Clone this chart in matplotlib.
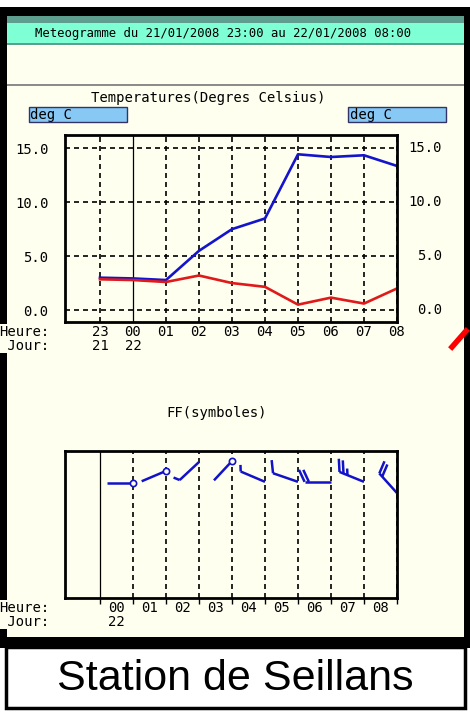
import numpy as np
import matplotlib.pyplot as plt
from matplotlib.patches import Rectangle
from matplotlib.lines import Line2D

# temperatures (deg C), one value per hour
heures = ['23', '00', '01', '02', '03', '04', '05', '06', '07', '08']
jours = ['21', '22', '', '', '', '', '', '', '', '']
temp_bleue = [3.0, 2.93, 2.78, 5.49, 7.5, 8.49, 14.44, 14.19, 14.35, 13.36]
temp_rouge = [2.85, 2.78, 2.6, 3.2, 2.5, 2.15, 0.5, 1.15, 0.6, 2.0]
graduations = [0, 5, 10, 15]

# wind symbols: direction (deg, from), speed (kt), vertical level of the station
ff_heures = ['00', '01', '02', '03', '04', '05', '06', '07', '08']
ff_jours = ['22', '', '', '', '', '', '', '', '']
ff_dir = [270, 247, 227, 223, 293, 289, 270, 292, 318]
ff_kt = [2, 2, 5, 3, 5, 10, 20, 25, 20]
ff_niveau = [3.48, 3.85, 4.12, 4.15, 3.52, 3.52, 3.52, 3.52, 3.18]

W, H = 470, 720
CREME = '#FFFFF0'
MONO = 'DejaVu Sans Mono'
BLEU_FF = '#1212C8'


def fx(x):
    return x / W


def fy(y):
    return 1 - y / H


fig = plt.figure(figsize=(4.7, 7.2), dpi=100)
fig.patch.set_facecolor('white')


def rect(x0, y0, x1, y1, color, **kw):
    fig.add_artist(Rectangle((fx(x0), fy(y1)), (x1 - x0) / W, (y1 - y0) / H,
                             transform=fig.transFigure, facecolor=color,
                             zorder=-5, **kw))


# screenshot frame
rect(0, 7, 470, 648, 'black', edgecolor='none')
rect(7, 16, 464, 637, CREME, edgecolor='none')
rect(7, 16, 464, 23, '#5E9E8E', edgecolor='none')
rect(7, 23, 464, 43, '#7FFFD4', edgecolor='none')
rect(7, 43, 464, 45, '#5E9E8E', edgecolor='none')
rect(7, 84, 464, 86, '#8C8C8C', edgecolor='none')
rect(6, 647, 465, 708, 'white', edgecolor='black', linewidth=2.5)
fig.add_artist(Line2D([fx(452), fx(466)], [fy(347), fy(331)], color='#FF0000',
                      lw=4, transform=fig.transFigure, zorder=-4))

fig.text(fx(35), fy(34), 'Meteogramme du 21/01/2008 23:00 au 22/01/2008 08:00',
         family=MONO, fontsize=8.8, va='center', ha='left')
fig.text(fx(208), fy(98), 'Temperatures(Degres Celsius)',
         family=MONO, fontsize=10, va='center', ha='center')
for x0 in (29, 348):
    rect(x0, 107, x0 + 98, 122, '#87C8F5', edgecolor='#333366', linewidth=1.0)
    fig.text(fx(x0 + 1.5), fy(115), 'deg C', family=MONO, fontsize=10,
             va='center', ha='left')
fig.text(fx(217), fy(413), 'FF(symboles)',
         family=MONO, fontsize=10, va='center', ha='center')
fig.text(0.5, fy(679), 'Station de Seillans', family='Liberation Sans',
         fontsize=31, va='center', ha='center')

# temperature panel
ax1 = fig.add_axes([fx(65), fy(322), 332 / W, 187 / H])
ax1.set_facecolor(CREME)
x = np.arange(len(heures))
ax1.set_xlim(-1.06, 9)
ax1.set_ylim(-1.11, 16.23)
for v in graduations:
    ax1.axhline(v, color='black', lw=1.2, linestyle=(0, (3.0, 2.4)), zorder=1)
for i in x:
    if heures[i] == '00':
        ax1.axvline(i, color='black', lw=0.9, zorder=1)
    else:
        ax1.axvline(i, color='black', lw=1.2, linestyle=(0, (3.0, 2.4)), zorder=1)
ax1.plot(x, temp_bleue, color='#1414CC', lw=1.9, zorder=3)
ax1.plot(x, temp_rouge, color='#E01A1A', lw=1.9, zorder=4)

ax1.set_xticks(x, [f'{h}\n{j}' for h, j in zip(heures, jours)],
               family=MONO, fontsize=10, linespacing=1.0)
ax1.set_yticks(graduations, [f'{v:.1f}' for v in graduations],
               family=MONO, fontsize=10)
ax1.tick_params(axis='x', length=0, pad=2)
ax1.tick_params(axis='y', length=0, pad=12)
for v in graduations:
    ax1.text(1.135, v, f'{v:.1f}', transform=ax1.get_yaxis_transform(),
             family=MONO, fontsize=10, ha='right', va='center')
for s in ax1.spines.values():
    s.set_linewidth(2)
    s.set_zorder(5)
fig.text(fx(-1), fy(324.8), 'Heure:\n Jour:', family=MONO, fontsize=10,
         va='top', ha='left', linespacing=1.0,
         bbox=dict(facecolor=CREME, edgecolor='none', pad=0.5))

# wind panel
ax2 = fig.add_axes([fx(65), fy(598), 332 / W, 147 / H])
ax2.set_facecolor(CREME)
p = np.arange(len(ff_heures))
ax2.set_xlim(-2.06, 8)
ax2.set_ylim(0, 10.06 * 147 / 332)
ax2.axvline(-1, color='black', lw=0.9, zorder=1)
for i in p:
    ax2.axvline(i, color='black', lw=1.2, linestyle=(0, (3.0, 2.4)), zorder=1)


def symbole(ax, x0, y0, d, ff):
    r = np.radians(d)
    ux, uy = np.sin(r), np.cos(r)
    rx, ry = uy, -ux
    L = 0.8
    ax.plot([x0, x0 + L * ux], [y0, y0 + L * uy], color=BLEU_FF, lw=1.8,
            solid_capstyle='butt', zorder=3)
    n10, reste = divmod(ff, 10)
    demi = reste >= 5
    if n10 == 0 and not demi:
        ax.plot(x0, y0, 'o', mfc=CREME, mec=BLEU_FF, ms=4.5, mew=1.2, zorder=4)
    a = np.radians(25)
    bx = np.cos(a) * rx + np.sin(a) * ux
    by = np.cos(a) * ry + np.sin(a) * uy
    pos = L
    longueurs = [0.4] * n10 + ([0.2] if demi else [])
    for b in longueurs:
        sx, sy = x0 + pos * ux, y0 + pos * uy
        ax.plot([sx, sx + b * bx], [sy, sy + b * by], color=BLEU_FF, lw=1.8,
                solid_capstyle='butt', zorder=3)
        pos -= 0.13


for i in p:
    symbole(ax2, p[i], ff_niveau[i], ff_dir[i], ff_kt[i])

ax2.set_xticks(p - 0.5, [f'{h}\n{j}' for h, j in zip(ff_heures, ff_jours)],
               family=MONO, fontsize=10, linespacing=1.0)
ax2.set_xticks(np.arange(-1, 9), minor=True)
ax2.set_yticks([])
ax2.tick_params(axis='x', which='major', length=0, pad=2)
ax2.tick_params(axis='x', which='minor', length=4, width=1, direction='out')
for s in ax2.spines.values():
    s.set_linewidth(2)
    s.set_zorder(5)
fig.text(fx(-1), fy(600.8), 'Heure:\n Jour:', family=MONO, fontsize=10,
         va='top', ha='left', linespacing=1.0,
         bbox=dict(facecolor=CREME, edgecolor='none', pad=0.5))

fig.savefig('out.png', dpi=100)
